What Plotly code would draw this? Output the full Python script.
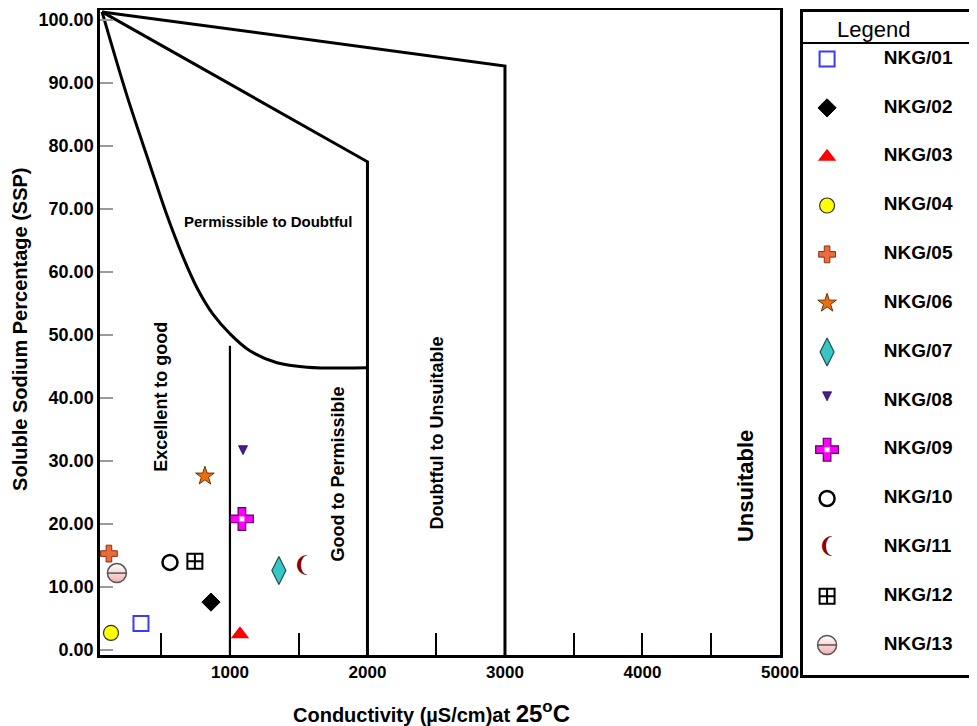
import plotly.graph_objects as go

# ---------------- data ----------------
SAMPLES = ["NKG/01", "NKG/02", "NKG/03", "NKG/04", "NKG/05", "NKG/06", "NKG/07",
           "NKG/08", "NKG/09", "NKG/10", "NKG/11", "NKG/12", "NKG/13"]
EC = [353, 862, 1073, 135, 120, 818, 1356, 1095, 1087, 564, 1524, 745, 178]
SSP = [4.2, 7.6, 2.5, 2.7, 15.3, 27.6, 12.6, 31.0, 20.8, 13.9, 13.2, 14.1, 12.2]

# Wilcox-type class boundaries (conductivity, SSP)
UNSUIT_X = [70, 3000, 3000]
UNSUIT_Y = [101.3, 92.7, -0.8]
DOUBT_X = [70, 2000, 2000]
DOUBT_Y = [101.3, 77.5, -0.8]
PERM_X = [70, 251, 418, 542, 651, 760, 876, 1000, 1145, 1342, 1560, 2000]
PERM_Y = [101.3, 88.0, 77.0, 69.0, 62.8, 57.5, 53.3, 50.2, 47.5, 45.6, 44.9, 44.8]
GOOD_X = [1000, 1000]
GOOD_Y = [-0.8, 48.3]

REGION_LABELS = ["Permissible to Doubtful", "Excellent to good", "Good to Permissible",
                 "Doubtful to Unsuitable", "Unsuitable"]
REGION_X = [1276, 498, 1785, 2505, 4745]
REGION_Y = [68.0, 40.2, 28.0, 34.5, 26.0]

X_TICKS = [500, 1000, 1500, 2000, 2500, 3000, 3500, 4000, 4500, 5000]
X_TICKTEXT = ["", "1000", "", "2000", "", "3000", "", "4000", "", "5000"]
Y_TICKS = [0, 10, 20, 30, 40, 50, 60, 70, 80, 90, 100]

# ---------------- styles ----------------
FONT = "Liberation Sans, Arial, sans-serif"
STYLES = {
    "NKG/01": [dict(symbol="square-open", size=15, color="#3a3aff", lw=2, lc="#3a3aff")],
    "NKG/02": [dict(symbol="diamond", size=14, color="black", lw=1, lc="black")],
    "NKG/03": [dict(symbol="triangle-up", size=16, color="#ff0000", lw=0, lc="#ff0000")],
    "NKG/04": [dict(symbol="circle", size=15, color="#ffff00", lw=1.2, lc="#333333")],
    "NKG/05": [dict(symbol="cross", size=14, color="#ec6a3c", lw=1, lc="#8a3010")],
    "NKG/06": [dict(symbol="star", size=14, color="#ef6e0c", lw=1, lc="#6b3000")],
    "NKG/07": [dict(symbol="diamond-tall", size=20, color="#36c6c6", lw=1.2, lc="#1f4f4f")],
    "NKG/08": [dict(symbol="arrow-down", size=9, color="#4b1c8c", lw=0.8, lc="#2a0a55")],
    "NKG/09": [dict(symbol="cross", size=19, color="#ff00ff", lw=1.2, lc="#5a005a"),
               dict(symbol="square", size=5, color="white", lw=0, lc="white")],
    "NKG/10": [dict(symbol="circle-open", size=15, color="black", lw=2.5, lc="black")],
    "NKG/11": [dict(text="\u2768", size=22, color="#8b0000")],
    "NKG/12": [dict(symbol="square-cross-open", size=15, color="black", lw=2, lc="black")],
    "NKG/13": [dict(symbol="circle", size=19, color="white", lw=1.5, lc="#555555",
                    grad="#f2b0b0"),
               dict(symbol="line-ew-open", size=13, color="#555555", lw=1.5, lc="#555555")],
}

fig = go.Figure()


def add_glyph(name, xs, ys, xaxis, yaxis):
    for layer in STYLES[name]:
        if "text" in layer:
            fig.add_trace(go.Scatter(
                x=xs, y=ys, mode="text", text=[layer["text"]] * len(xs),
                textposition="middle center",
                textfont=dict(size=layer["size"], color=layer["color"],
                              family="DejaVu Sans"),
                xaxis=xaxis, yaxis=yaxis, hoverinfo="skip", showlegend=False))
        else:
            marker = dict(symbol=layer["symbol"], size=layer["size"], color=layer["color"],
                          line=dict(width=layer["lw"], color=layer["lc"]))
            if "grad" in layer:
                marker["gradient"] = dict(type="vertical", color=layer["grad"])
            fig.add_trace(go.Scatter(
                x=xs, y=ys, mode="markers", marker=marker,
                xaxis=xaxis, yaxis=yaxis, hoverinfo="skip", showlegend=False))


# boundary lines
for bx, by, w in [(UNSUIT_X, UNSUIT_Y, 3), (DOUBT_X, DOUBT_Y, 3), (GOOD_X, GOOD_Y, 2.2)]:
    fig.add_trace(go.Scatter(x=bx, y=by, mode="lines", line=dict(color="black", width=w),
                             hoverinfo="skip", showlegend=False))
fig.add_trace(go.Scatter(x=PERM_X, y=PERM_Y, mode="lines",
                         line=dict(color="black", width=3, shape="spline", smoothing=1.0),
                         hoverinfo="skip", showlegend=False))

# sample points
for i, name in enumerate(SAMPLES):
    add_glyph(name, [EC[i]], [SSP[i]], "x", "y")

# custom legend panel (second axes)
LEG_MARK_X = 0.14
LEG_TEXT_X = 0.47
for i, name in enumerate(SAMPLES):
    add_glyph(name, [LEG_MARK_X], [i], "x2", "y2")
fig.add_trace(go.Scatter(
    x=[LEG_TEXT_X] * len(SAMPLES), y=list(range(len(SAMPLES))), mode="text",
    text=SAMPLES, textposition="middle right",
    textfont=dict(family=FONT, size=19, color="black", weight="bold"),
    xaxis="x2", yaxis="y2", hoverinfo="skip", showlegend=False))

annotations = []
for lab, lx, ly in zip(REGION_LABELS, REGION_X, REGION_Y):
    horiz = lab == "Permissible to Doubtful"
    size = 15 if horiz else (22 if lab == "Unsuitable" else 18)
    annotations.append(dict(
        x=lx, y=ly, xref="x", yref="y", text=lab, showarrow=False,
        textangle=0 if horiz else -90,
        font=dict(family=FONT, size=size, color="black", weight="bold")))

annotations.append(dict(
    x=0.407, y=-0.61, xref="x2", yref="y2", text="Legend", showarrow=False,
    font=dict(family=FONT, size=22, color="black")))
annotations.append(dict(
    x=-0.0914, y=0.519, xref="paper", yref="paper", text="Soluble Sodium Percentage (SSP)",
    textangle=-90, showarrow=False, xanchor="center", yanchor="middle",
    font=dict(family=FONT, size=20, color="black", weight="bold")))
annotations.append(dict(
    x=0.379, y=-0.0556, xref="paper", yref="paper",
    text="Conductivity (µS/cm)at <span style='font-size:24px'>25<sup>o</sup>C</span>",
    showarrow=False, xanchor="center", yanchor="middle",
    font=dict(family=FONT, size=20, color="black", weight="bold")))

axis_common = dict(showline=True, mirror=True, linewidth=2.5, linecolor="black",
                   showgrid=False, zeroline=False)

# page body adds an 8px offset, so the figure is 8px smaller on each axis
fig.update_layout(
    width=969, height=718,
    margin=dict(l=92, r=2, t=2, b=51, autoexpand=False),
    paper_bgcolor="white", plot_bgcolor="white",
    showlegend=False,
    xaxis=dict(domain=[0, 680 / 875], range=[55, 5000], tickmode="array",
               tickvals=X_TICKS, ticktext=X_TICKTEXT, ticks="inside", ticklen=22,
               tickwidth=1.5, tickcolor="black",
               tickfont=dict(family=FONT, size=17, color="black", weight="bold"),
               anchor="y", **axis_common),
    yaxis=dict(domain=[20 / 665, 1], range=[-0.8, 101.6], tickmode="array",
               tickvals=Y_TICKS, tickformat=".2f", ticks="inside", ticklen=13,
               tickwidth=2, tickcolor="#9a9a9a",
               tickfont=dict(family=FONT, size=18, color="black", weight="bold"),
               anchor="x", **axis_common),
    xaxis2=dict(domain=[703 / 875, 1], range=[0, 1], anchor="y2", showticklabels=False,
                ticks="", **axis_common),
    yaxis2=dict(domain=[0, 663 / 665], range=[12.615, -0.963], anchor="x2",
                showticklabels=False, ticks="", **axis_common),
    annotations=annotations,
    shapes=[dict(type="line", xref="x2 domain", yref="y2", x0=0, x1=1, y0=-0.328, y1=-0.328,
                 line=dict(color="black", width=2))],
)

fig.write_html("out.html")
